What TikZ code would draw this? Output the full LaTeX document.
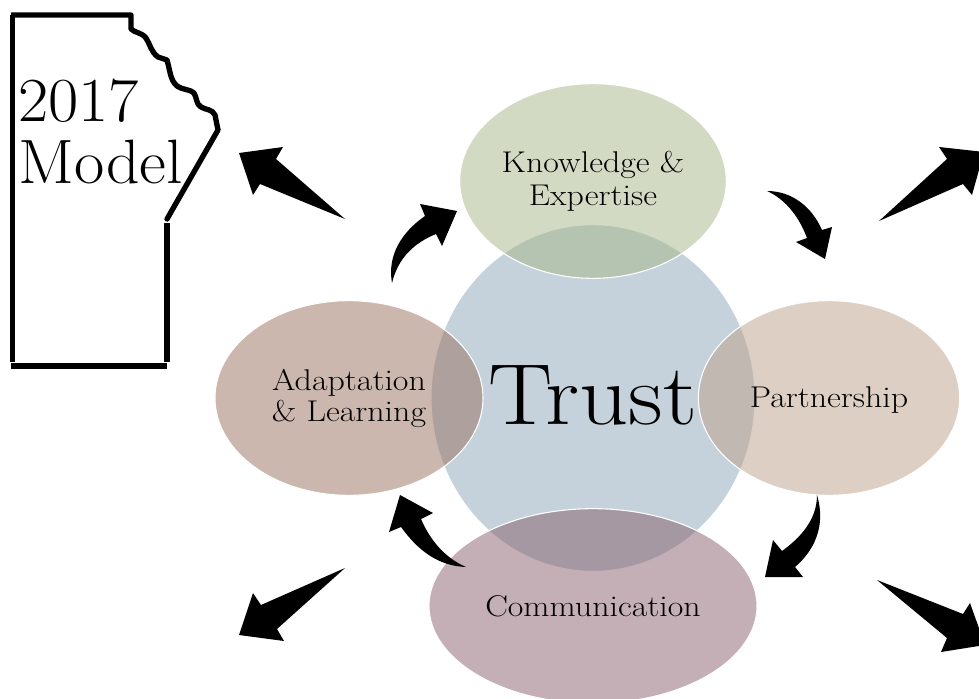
\documentclass[tikz,border=0pt]{standalone}
\usetikzlibrary{shapes.geometric}
\tikzset{
  x=0.75pt,y=-0.75pt,
  petal/.style={ellipse,inner sep=0pt,draw=white,line width=0.8pt,fill opacity=0.5,draw opacity=1},
  petaltext/.style={inner sep=0pt,align=center,text=black,xscale=1.13,transform shape,font=\fontsize{22.5}{24}\selectfont},
  blockarrow/.style={fill=black,draw=none},
  mapline/.style={draw=black,line width=4pt},
}
\definecolor{ck}{RGB}{167,181,137}
\definecolor{ct}{RGB}{139,165,183}
\definecolor{cp}{RGB}{187,159,135}
\definecolor{cc}{RGB}{137,95,109}
\definecolor{ca}{RGB}{151,111,93}
\begin{document}
\begin{tikzpicture}
\useasboundingbox (0,0) rectangle (979,699);
\clip (0,0) rectangle (979,699);
% ellipses
\node[petal,fill=ct,minimum width=243pt,minimum height=260pt] (trust) at (593,398) {};
\node[petal,fill=ck,minimum width=200pt,minimum height=146pt] (know) at (593,181) {};
\node[petal,fill=cp,minimum width=196pt,minimum height=146pt] (part) at (829,398) {};
\node[petal,fill=cc,minimum width=246pt,minimum height=146pt] (comm) at (593,606) {};
\node[petal,fill=ca,minimum width=201pt,minimum height=146pt] (adapt) at (349,398) {};
% texts
\node[inner sep=0pt,anchor=base,xscale=1.11,transform shape,font=\fontsize{65}{70}\selectfont] (ttrust) at (593,424) {Trust};
\node[petaltext,font=\fontsize{22.5}{24.75}\selectfont] (tknow) at (593,181) {Knowledge \&\\Expertise};
\node[petaltext,anchor=base] (tpart) at (829,407) {Partnership};
\node[petaltext,anchor=base] (tcomm) at (593,616) {Communication};
\node[petaltext,font=\fontsize{22.5}{23.25}\selectfont] (tadapt) at (349,398) {Adaptation\\\& Learning};
% straight arrows
\fill[blockarrow] (239,153) -- (283,147) -- (276,159) -- (345,219) -- (260,184) -- (253,195) -- cycle;
\fill[blockarrow] (984,152) -- (939,147) -- (947,159) -- (879,221) -- (963,184) -- (972,195) -- cycle;
\fill[blockarrow] (985,645) -- (970,603) -- (963,614) -- (877,580) -- (947,638) -- (941,652) -- cycle;
\fill[blockarrow] (239,635) -- (284,641) -- (277,629) -- (345,568) -- (261,605) -- (253,593) -- cycle;
% curved arrows
\fill[blockarrow] (392,283) .. controls (387,255) and (402,232) .. (425,216) -- (420,204) -- (457,211) -- (442,246) -- (436,234)
  .. controls (414,243) and (398,258) .. (392,283) -- cycle;
\fill[blockarrow] (767,191) .. controls (792,191) and (812,207) .. (822,230) -- (832,227) -- (825,259) -- (796,242) -- (807,238)
  .. controls (800,219) and (787,200) .. (767,191) -- cycle;
\fill[blockarrow] (817,495) .. controls (826,525) and (815,550) .. (795,567) -- (803,577) -- (765,577) -- (773,540) -- (782,551)
  .. controls (800,538) and (817,520) .. (817,495) -- cycle;
\fill[blockarrow] (466,567) .. controls (437,566) and (417,549) .. (401,527) -- (389,532) -- (400,495) -- (433,513) -- (421,519)
  .. controls (430,540) and (445,558) .. (466,567) -- cycle;
% map
\draw[mapline,line cap=butt] (12.5,362) -- (12.5,15);
\draw[mapline,line join=round] (11,15) -- (131,15) -- (131,29)
  .. controls (135,33) and (141,32) .. (146,38)
  .. controls (150,44) and (151,52) .. (158,57)
  -- (167,60)
  .. controls (170,70) and (170,80) .. (177,86)
  .. controls (182,90) and (190,89) .. (194,93)
  .. controls (197,98) and (196,104) .. (201,107)
  .. controls (206,110) and (212,109) .. (215,115)
  -- (218,130);
\draw[mapline,line cap=round] (218,130) -- (167,219);
\draw[mapline] (167,223) -- (167,362);
\draw[draw=black,line width=4.5pt] (11,366) -- (167,366);
\node[anchor=north west,inner sep=0pt,align=left,xscale=1.05,transform shape,font=\fontsize{47}{46.5}\selectfont] (label) at (18,79) {2017\\Model};
\end{tikzpicture}
\end{document}
